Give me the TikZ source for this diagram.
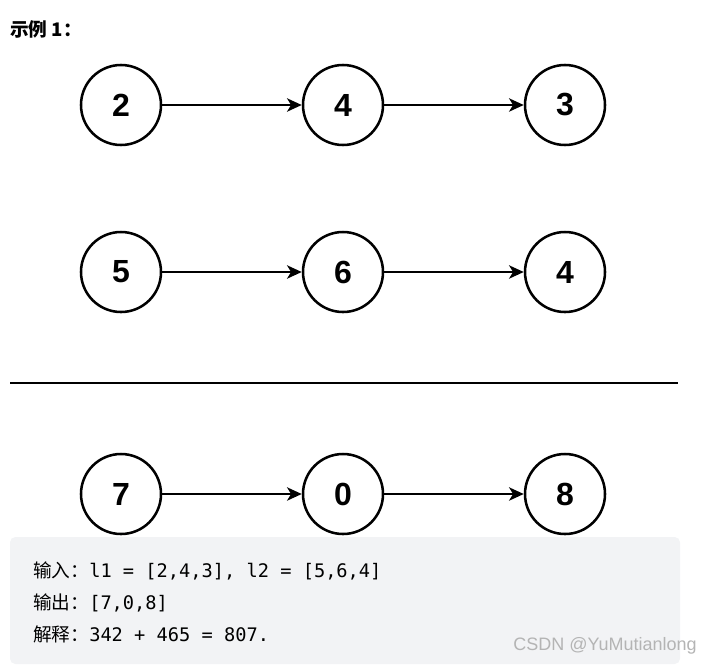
\documentclass[tikz,border=0pt]{standalone}
\usepackage{fontspec}
\setmainfont{Liberation Sans}
\setmonofont{DejaVu Sans Mono}
\newfontfamily\cjk{Noto Sans CJK SC}
\usetikzlibrary{arrows.meta}

\definecolor{codebg}{RGB}{242,243,245}
\definecolor{markgray}{RGB}{180,180,180}

\tikzset{
  listnode/.style={circle, draw, line width=1.9pt, minimum size=60pt,
    font=\fontsize{24}{24}\selectfont\bfseries},
  nextptr/.style={-{Stealth[length=11pt,width=10pt,inset=3pt]}, line width=1.5pt},
  codeline/.style={anchor=base west, inner sep=0pt,
    font=\ttfamily\fontsize{14}{16}\selectfont},
}

\begin{document}
\begin{tikzpicture}[x=0.75pt,y=-0.75pt]
  \useasboundingbox (0,0) rectangle (712,664);

  \node[anchor=base west, inner sep=0pt, font=\cjk\bfseries\fontsize{14}{16}\selectfont]
    (title) at (10,36) {示例 1：};

  % l1
  \begin{scope}
    \node[listnode] (l1a) at (121,105) {2};
    \node[listnode] (l1b) at (343,105) {4};
    \node[listnode] (l1c) at (565,105) {3};
    \draw[nextptr] (l1a) -- (l1b);
    \draw[nextptr] (l1b) -- (l1c);
  \end{scope}

  % l2
  \begin{scope}[yshift=-167*0.75pt]
    \node[listnode] (l2a) at (121,105) {5};
    \node[listnode] (l2b) at (343,105) {6};
    \node[listnode] (l2c) at (565,105) {4};
    \draw[nextptr] (l2a) -- (l2b);
    \draw[nextptr] (l2b) -- (l2c);
  \end{scope}

  \draw[line width=2pt] (10,383) -- (678,383);

  % sum
  \begin{scope}[yshift=-389*0.75pt]
    \node[listnode] (suma) at (121,105) {7};
    \node[listnode] (sumb) at (343,105) {0};
    \node[listnode] (sumc) at (565,105) {8};
    \draw[nextptr] (suma) -- (sumb);
    \draw[nextptr] (sumb) -- (sumc);
  \end{scope}

  \fill[codebg, rounded corners=4pt] (10,537) rectangle (680,664);

  \node[codeline] (input) at (33,577) {{\cjk 输入：}l1 = [2,4,3], l2 = [5,6,4]};
  \node[codeline] (output) at (33,609) {{\cjk 输出：}[7,0,8]};
  \node[codeline] (explain) at (33,641) {{\cjk 解释：}342 + 465 = 807.};

  \node[anchor=base east, inner sep=0pt, text=markgray,
    font=\fontsize{13.5}{15}\selectfont] (mark) at (697,650) {CSDN @YuMutianlong};
\end{tikzpicture}
\end{document}
